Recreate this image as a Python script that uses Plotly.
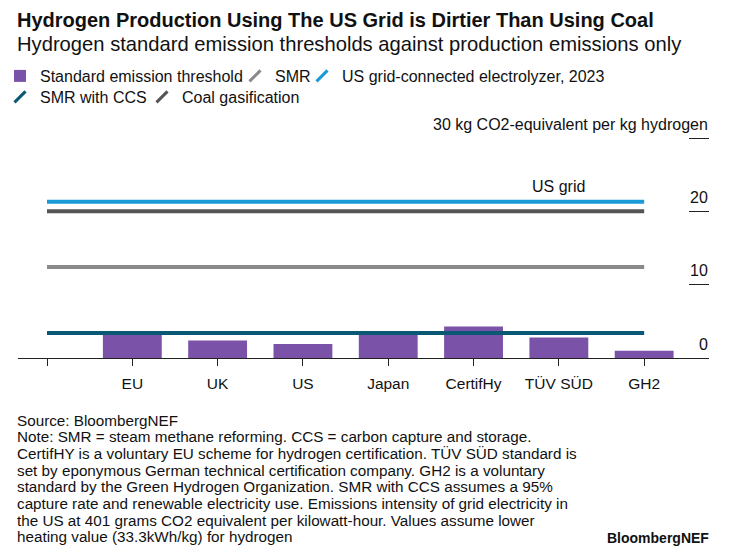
import plotly.graph_objects as go

# ---- data ----
axis_categories = [" ", "EU", "UK", "US", "Japan", "CertifHy", "TÜV SÜD", "GH2"]
standard_categories = ["EU", "UK", "US", "Japan", "CertifHy", "TÜV SÜD", "GH2"]
standard_threshold = [3.38, 2.4, 1.9, 3.4, 4.3, 2.8, 1.0]

line_names = ["SMR", "US grid-connected electrolyzer, 2023", "SMR with CCS", "Coal gasification"]
line_values = [12.4, 21.3, 3.4, 20.0]
line_colors = ["#8a8a8a", "#1a9bd7", "#0b5875", "#555555"]

y_tickvals = [0, 10, 20, 30]
y_ticktext = ["0", "10", "20", "30 kg CO2-equivalent per kg hydrogen"]

note_lines = [
    "Source: BloombergNEF",
    "Note: SMR = steam methane reforming. CCS = carbon capture and storage.",
    "CertifHY is a voluntary EU scheme for hydrogen certification. TÜV SÜD standard is",
    "set by eponymous German technical certification company. GH2 is a voluntary",
    "standard by the Green Hydrogen Organization. SMR with CCS assumes a 95%",
    "capture rate and renewable electricity use. Emissions intensity of grid electricity in",
    "the US at 401 grams CO2 equivalent per kilowatt-hour. Values assume lower",
    "heating value (33.3kWh/kg) for hydrogen",
]

FONT = "Liberation Sans"
TXT = "#111111"

W, H = 751, 555
plot_l, plot_r = 18, 709
plot_top, plot_bot = 112, 358
pw = plot_r - plot_l
ph = plot_bot - plot_top
px_per_unit = 7.333

def px(pix):
    return (pix - plot_l) / pw

def py(pix):
    return (plot_bot - pix) / ph

pos = {c: i for i, c in enumerate(axis_categories)}
bar_x = [pos[c] for c in standard_categories]
line_x = [pos[axis_categories[0]], pos[axis_categories[-1]]]

# legend layout (one legend per entry so the flow matches): legend left px, row centre px
legend_ids = ["legend", "legend2", "legend3", "legend4", "legend5"]
legend_left_x = [0, 235, 302, 0, 142]
legend_row_y = [76, 76, 76, 97, 97]

fig = go.Figure()

fig.add_trace(go.Bar(
    x=bar_x, y=standard_threshold,
    name="Standard emission threshold",
    marker=dict(color="#7a52a7", line=dict(width=0)),
    legend=legend_ids[0], hoverinfo="y",
))

for name, val, col in zip(line_names, line_values, line_colors):
    fig.add_trace(go.Scatter(
        x=line_x, y=[val, val],
        mode="lines", line=dict(color=col, width=4),
        showlegend=False, hoverinfo="skip",
    ))

# legend entries with slanted line glyphs
for i, (name, col) in enumerate(zip(line_names, line_colors)):
    fig.add_trace(go.Scatter(
        x=[None], y=[None], mode="markers", name=name,
        marker=dict(symbol="line-ne", size=11, color=col, line=dict(width=3, color=col)),
        legend=legend_ids[i + 1],
    ))

fig.add_annotation(
    x=pos["TÜV SÜD"], y=line_values[1], text="US grid", showarrow=False,
    yshift=15, font=dict(size=16, color=TXT, family=FONT),
)

# right-hand value labels sitting above their tick marks
for v, t in zip(y_tickvals, y_ticktext):
    fig.add_annotation(
        xref="paper", yref="y", x=px(710), y=v, text=t, showarrow=False,
        xanchor="right", yanchor="middle", yshift=14,
        font=dict(size=16, color=TXT, family=FONT),
    )

fig.add_annotation(
    xref="paper", yref="paper", x=px(15), y=py(20),
    text="<b>Hydrogen Production Using The US Grid is Dirtier Than Using Coal</b>",
    showarrow=False, xanchor="left", yanchor="middle",
    font=dict(size=20, color=TXT, family=FONT),
)
fig.add_annotation(
    xref="paper", yref="paper", x=px(15), y=py(44),
    text="Hydrogen standard emission thresholds against production emissions only",
    showarrow=False, xanchor="left", yanchor="middle",
    font=dict(size=20.2, color=TXT, family=FONT),
)

for i, line in enumerate(note_lines):
    fig.add_annotation(
        xref="paper", yref="paper", x=px(15), y=py(420 + 16.7 * i),
        text=line, showarrow=False, xanchor="left", yanchor="middle", align="left",
        font=dict(size=15.25, color=TXT, family=FONT),
    )
fig.add_annotation(
    xref="paper", yref="paper", x=px(711), y=py(538),
    text="<b>BloombergNEF</b>", showarrow=False, xanchor="right", yanchor="middle",
    font=dict(size=14, color=TXT, family=FONT),
)

legend_common = dict(
    orientation="h", xref="container", yref="container",
    xanchor="left", yanchor="middle",
    font=dict(size=16, color=TXT, family=FONT),
    itemwidth=30, bgcolor="rgba(0,0,0,0)", borderwidth=0,
)
legend_layout = {
    lid: dict(legend_common, x=lx / W, y=1 - ry / H)
    for lid, lx, ry in zip(legend_ids, legend_left_x, legend_row_y)
}

fig.update_layout(
    width=W, height=H,
    margin=dict(l=plot_l, r=W - plot_r, t=plot_top, b=H - plot_bot, pad=0, autoexpand=False),
    paper_bgcolor="white", plot_bgcolor="white",
    font=dict(family=FONT, size=15, color=TXT),
    bargap=0.31,
    showlegend=True,
    xaxis=dict(
        range=[-0.34, 7.76], showgrid=False, zeroline=False,
        tickmode="array", tickvals=list(range(len(axis_categories))), ticktext=axis_categories,
        showline=True, linecolor="#222222", linewidth=1,
        ticks="outside", ticklen=7, tickcolor="#222222", tickwidth=1,
        ticklabelstandoff=4,
        tickfont=dict(size=15.5, color=TXT, family=FONT),
        fixedrange=True,
    ),
    yaxis=dict(
        side="right", range=[0, ph / px_per_unit], showgrid=False, zeroline=False,
        showline=False, tickvals=y_tickvals, showticklabels=False,
        ticks="inside", ticklen=20, tickcolor="#222222", tickwidth=1.2,
        fixedrange=True,
    ),
    **legend_layout,
)

fig.write_html(
    "out.html",
    config={"displayModeBar": False},
    post_script="document.body.style.margin='0';",
)
